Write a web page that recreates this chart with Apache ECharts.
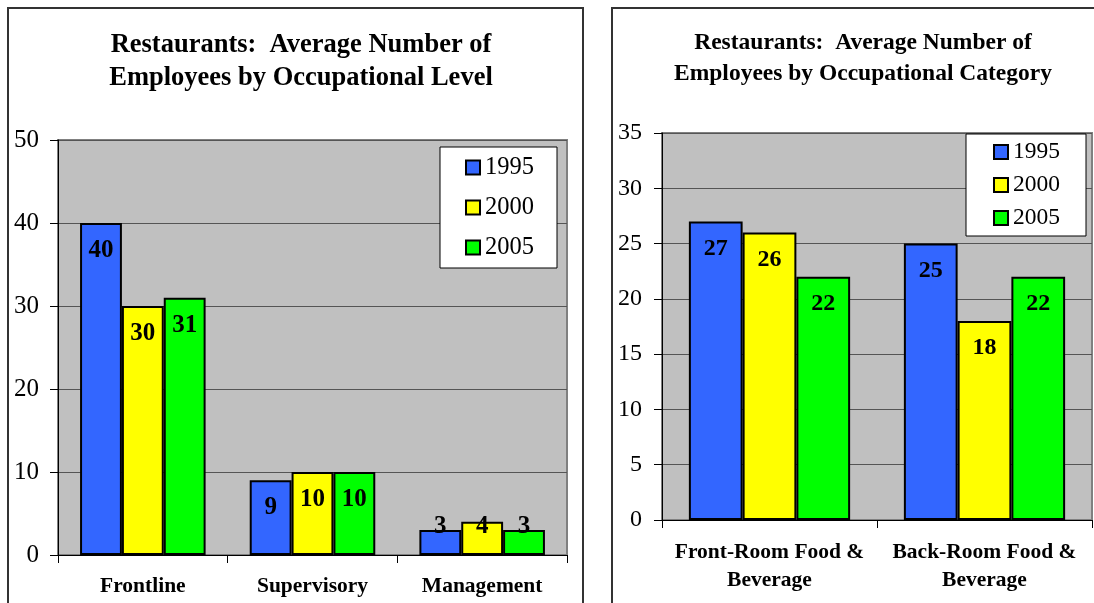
<!DOCTYPE html>
<html><head><meta charset="utf-8">
<script src="https://cdn.jsdelivr.net/npm/echarts@6/dist/echarts.min.js"></script>
<style>html,body{margin:0;padding:0;background:#fff}#c{width:1094px;height:603px}</style>
</head><body><div id="c"></div>
<script>
const years = ['1995', '2000', '2005'];
const levelCats = ['Frontline', 'Supervisory', 'Management'];
const level1995 = [40, 9, 3];
const level2000 = [30, 10, 4];
const level2005 = [31, 10, 3];
const catCats = ['Front-Room Food &\nBeverage', 'Back-Room Food &\nBeverage'];
const cat1995 = [27, 25];
const cat2000 = [26, 18];
const cat2005 = [22, 22];
const leftTitle = 'Restaurants:  Average Number of\nEmployees by Occupational Level';
const rightTitle = 'Restaurants:  Average Number of\nEmployees by Occupational Category';

const colors = ['#3366FF', '#FFFF00', '#00FF00'];
const FONT = '"Liberation Serif", "Times New Roman", serif';

function items(vals, smallLimit) {
  return vals.map(v => v < smallLimit
    ? { value: v, label: { position: 'insideBottom', distance: 16 } }
    : v);
}
function barSeries(name, vals, idx, axisIdx, size, gapCat, smallLimit) {
  return {
    type: 'bar', name: name, xAxisIndex: axisIdx, yAxisIndex: axisIdx,
    data: items(vals, smallLimit),
    barGap: '0%', barCategoryGap: gapCat,
    itemStyle: { color: colors[idx], borderColor: '#000', borderWidth: 2 },
    label: { show: true, position: 'insideTop', distance: 15, color: '#000',
      fontFamily: FONT, fontWeight: 'bold', fontSize: size },
    emphasis: { disabled: true }, animation: false
  };
}
function yAxis(grid, max, interval, size, margin) {
  return {
    type: 'value', gridIndex: grid, min: 0, max: max, interval: interval,
    axisLine: { show: true, lineStyle: { color: '#000', width: 1 } },
    axisTick: { show: true, length: 8, lineStyle: { color: '#000' } },
    axisLabel: { color: '#000', fontFamily: FONT, fontSize: size, margin: margin },
    splitLine: { show: true, lineStyle: { color: '#555', width: 1 } }
  };
}
function xAxis(grid, cats, size, margin, lh) {
  return {
    type: 'category', gridIndex: grid, data: cats,
    axisLine: { show: true, lineStyle: { color: '#000', width: 1 } },
    axisTick: { show: true, length: 8, lineStyle: { color: '#000' } },
    axisLabel: { color: '#000', fontFamily: FONT, fontWeight: 'bold', fontSize: size,
      margin: margin, lineHeight: lh, interval: 0 }
  };
}
function legend(left, top, gap, pad, size) {
  return {
    data: years, orient: 'vertical', left: left, top: top,
    backgroundColor: '#fff', borderColor: '#000', borderWidth: 1,
    padding: pad, itemGap: gap, itemWidth: 14, itemHeight: 14, itemTextGap: 7,
    icon: 'rect', selectedMode: false,
    itemStyle: { borderColor: '#000', borderWidth: 2 },
    textStyle: { color: '#000', fontFamily: FONT, fontSize: size, lineHeight: 24 }
  };
}

const chart = echarts.init(document.getElementById('c'), null, { renderer: 'canvas' });
chart.setOption({
  animation: false,
  title: [
    { text: leftTitle, left: 296, top: 24, textAlign: 'center',
      textStyle: { fontFamily: FONT, fontWeight: 'bold', fontSize: 26.5, lineHeight: 33, color: '#000' } },
    { text: rightTitle, left: 858, top: 22, textAlign: 'center',
      textStyle: { fontFamily: FONT, fontWeight: 'bold', fontSize: 23.5, lineHeight: 31, color: '#000' } }
  ],
  legend: [legend(440, 147, 15, [8, 23, 8, 25], 24.5), legend(966, 134, 9, [6, 26, 6, 27], 23.5)],
  grid: [
    { left: 58, top: 140, width: 509, height: 415, show: true, backgroundColor: '#C0C0C0',
      borderColor: '#808080', borderWidth: 2 },
    { left: 662, top: 133, width: 430, height: 387, show: true, backgroundColor: '#C0C0C0',
      borderColor: '#808080', borderWidth: 2 }
  ],
  xAxis: [xAxis(0, levelCats, 21.5, 19, 24), xAxis(1, catCats, 21.5, 18, 28)],
  yAxis: [yAxis(0, 50, 10, 25, 19), yAxis(1, 35, 5, 24, 20)],
  series: [
    barSeries(years[0], level1995, 0, 0, 25, '26%', 5),
    barSeries(years[1], level2000, 1, 0, 25, '26%', 5),
    barSeries(years[2], level2005, 2, 0, 25, '26%', 5),
    barSeries(years[0], cat1995, 0, 1, 24, '25%', 0),
    barSeries(years[1], cat2000, 1, 1, 24, '25%', 0),
    barSeries(years[2], cat2005, 2, 1, 24, '25%', 0)
  ],
  graphic: [
    { type: 'rect', shape: { x: 8, y: 8, width: 575, height: 620 }, silent: true, z: 100,
      style: { fill: null, stroke: '#333', lineWidth: 2 } },
    { type: 'rect', shape: { x: 612, y: 8, width: 520, height: 620 }, silent: true, z: 100,
      style: { fill: null, stroke: '#333', lineWidth: 2 } }
  ]
});
</script></body></html>
